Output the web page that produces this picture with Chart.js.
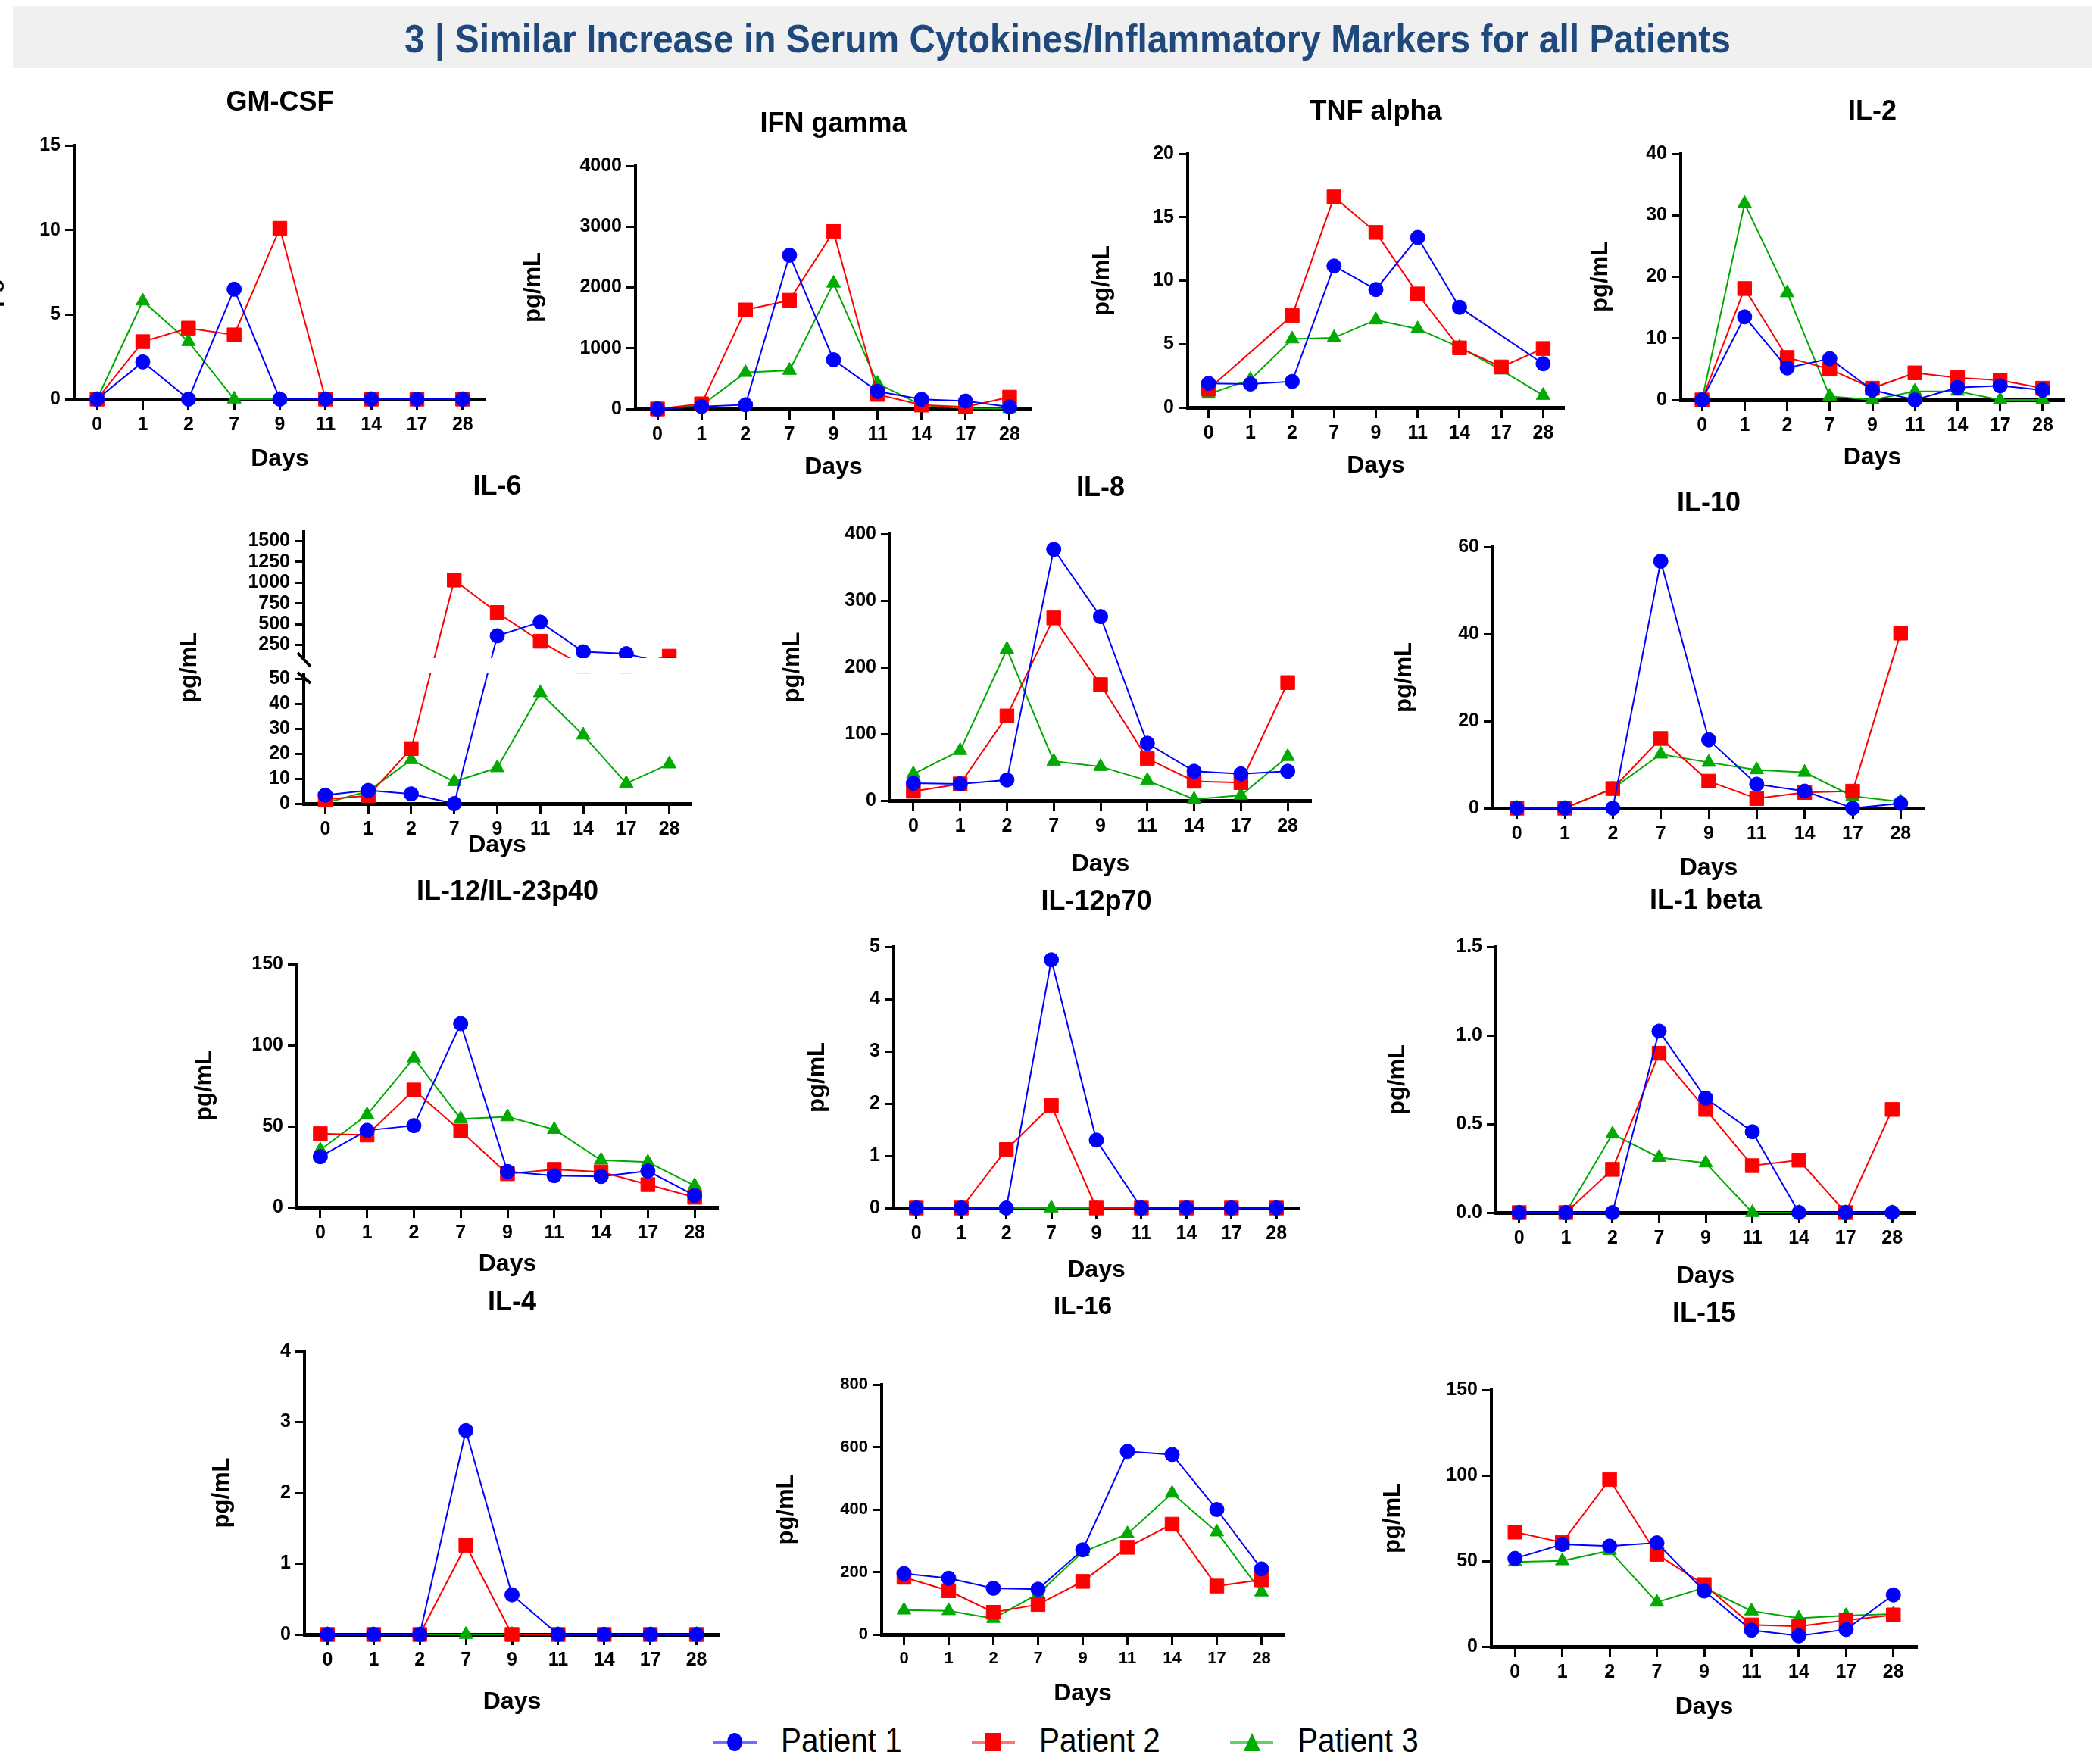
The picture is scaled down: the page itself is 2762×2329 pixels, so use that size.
<!DOCTYPE html>
<html>
<head>
<meta charset="utf-8">
<script src="https://cdn.jsdelivr.net/npm/chart.js@4.4.1/dist/chart.umd.min.js"></script>
<style>
html,body{margin:0;padding:0;background:#fff;}
body{width:2762px;height:2329px;position:relative;overflow:hidden;font-family:"Liberation Sans",Arial,Helvetica,sans-serif;}
canvas{position:absolute;}
#banner{position:absolute;left:17px;top:8px;width:2745px;height:82px;background:#f0f0f0;}
#mainTitle{position:absolute;left:534px;top:25px;font-size:52px;line-height:52px;font-weight:bold;color:#1F497D;white-space:nowrap;transform-origin:0 0;}
.lg-line{position:absolute;height:4px;}
.lg-text{position:absolute;font-size:44px;line-height:44px;color:#000;white-space:nowrap;transform-origin:0 0;transform:scaleX(0.92);}
.lg-mark{position:absolute;}
</style>
</head>
<body>
<div id="banner"></div>
<div id="mainTitle">3 | Similar Increase in Serum Cytokines/Inflammatory Markers for all Patients</div>

<script>
// ---------------- DATA ----------------
const days = ['0', '1', '2', '7', '9', '11', '14', '17', '28'];
const patients = ['Patient 1', 'Patient 2', 'Patient 3'];
const panelTitles = ['GM-CSF', 'IFN gamma', 'TNF alpha', 'IL-2', 'IL-6', 'IL-8', 'IL-10',
  'IL-12/IL-23p40', 'IL-12p70', 'IL-1 beta', 'IL-4', 'IL-16', 'IL-15'];
const yMax  = [15, 4000, 20, 40, 1612, 400, 60, 150, 5, 1.5, 4, 800, 150];
const yStep = [5, 1000, 5, 10, null, 100, 20, 50, 1, 0.5, 1, 200, 50];
const il6Ticks = [0, 10, 20, 30, 40, 50, 250, 500, 750, 1000, 1250, 1500];
const il6Break = {lowMax: 52, highMin: 100};

const gmcsf_p1 = [0, 2.2, 0, 6.5, 0, 0, 0, 0, 0];
const gmcsf_p2 = [0, 3.4, 4.2, 3.8, 10.1, 0, 0, 0, 0];
const gmcsf_p3 = [0, 5.8, 3.4, 0, 0, 0, 0, 0, 0];

const ifn_p1 = [0, 40, 70, 2530, 810, 290, 160, 130, 35];
const ifn_p2 = [0, 85, 1630, 1790, 2920, 240, 65, 35, 195];
const ifn_p3 = [0, 60, 600, 635, 2070, 420, 65, 10, 5];

const tnf_p1 = [1.9, 1.85, 2.05, 11.15, 9.3, 13.4, 7.9, null, 3.45];
const tnf_p2 = [1.45, null, 7.25, 16.6, 13.8, 8.95, 4.7, 3.2, 4.65];
const tnf_p3 = [1.05, 2.2, 5.4, 5.5, 6.9, 6.2, 4.75, 2.95, 0.95];

const il2_p1 = [0, 13.5, 5.2, 6.7, 1.6, 0, 2.0, 2.3, 1.6];
const il2_p2 = [0, 18.1, 6.9, 5.0, 1.9, 4.4, 3.6, 3.2, 1.9];
const il2_p3 = [0, 31.9, 17.4, 0.6, 0, 1.4, 1.4, 0, 0];

const il6_p1 = [3.4, 5.3, 3.9, 0, 360, 525, 168, 145, 80];
const il6_p2 = [1.7, 3.2, 22.1, 1030, 640, 295, 75, 75, 115];
const il6_p3 = [0.2, 5.0, 17.6, 8.8, 14.4, 44.5, 27.5, 8.1, 15.9];

const il8_p1 = [26, 25, 31, 377, 276, 86, 44, 40, 44];
const il8_p2 = [14, 25, 127, 274, 174, 63, 29, 27, 177];
const il8_p3 = [40, 75, 227, 59, 51, 30, 2, 8, 66];

const il10_p1 = [0, 0, 0, 56.7, 15.7, 5.5, 3.9, 0, 1.1];
const il10_p2 = [0, 0, 4.5, 16.0, 6.2, 2.2, 3.6, 3.9, 40.2];
const il10_p3 = [0, 0, 4.5, 12.4, 10.5, 8.8, 8.2, 2.75, 1.5];

const il12p40_p1 = [31.2, 47.5, 50.4, 113.3, 22.1, 19.5, 19.0, 22.4, 7.3];
const il12p40_p2 = [45.4, 44.6, 72.4, 47.1, 20.7, 23.4, 21.8, 14.0, 6.2];
const il12p40_p3 = [35.4, 57.1, 92.1, 54.6, 55.8, 48.0, 29.1, 27.9, 13.4];

const il12p70_p1 = [0, 0, 0, 4.75, 1.30, 0, 0, 0, 0];
const il12p70_p2 = [0, 0, 1.12, 1.96, 0, 0, 0, 0, 0];
const il12p70_p3 = [0, 0, 0, 0, 0, 0, 0, 0, 0];

const il1b_p1 = [0, 0, 0, 1.024, 0.646, 0.456, 0, 0, 0];
const il1b_p2 = [0, 0, 0.244, 0.899, 0.582, 0.265, 0.296, 0, 0.582];
const il1b_p3 = [0, 0, 0.443, 0.311, 0.280, 0, 0, 0, 0];

const il4_p1 = [0, 0, 0, 2.88, 0.56, 0, 0, 0, 0];
const il4_p2 = [0, 0, 0, 1.26, 0, 0, 0, 0, 0];
const il4_p3 = [0, 0, 0, 0, 0, 0, 0, 0, 0];

const il16_p1 = [195, 180, 148, 145, 271, 586, 576, 400, 210];
const il16_p2 = [183, 140, 71, 96, 170, 279, 353, 155, 175];
const il16_p3 = [78, 76, 51, 130, 264, 322, 452, 328, 136];

const il15_p1 = [51.5, 59.7, 58.7, 60.6, 32.5, 9.6, 6.3, 10.0, 30.2];
const il15_p2 = [66.9, 60.9, 97.6, 53.9, 36.2, 12.7, 11.8, 15.4, 18.5];
const il15_p3 = [49.4, 50.1, 56.0, 25.9, 34.4, 20.8, 16.6, 18.1, 19.0];

const panelData = [
  [gmcsf_p1, gmcsf_p2, gmcsf_p3],
  [ifn_p1, ifn_p2, ifn_p3],
  [tnf_p1, tnf_p2, tnf_p3],
  [il2_p1, il2_p2, il2_p3],
  [il6_p1, il6_p2, il6_p3],
  [il8_p1, il8_p2, il8_p3],
  [il10_p1, il10_p2, il10_p3],
  [il12p40_p1, il12p40_p2, il12p40_p3],
  [il12p70_p1, il12p70_p2, il12p70_p3],
  [il1b_p1, il1b_p2, il1b_p3],
  [il4_p1, il4_p2, il4_p3],
  [il16_p1, il16_p2, il16_p3],
  [il15_p1, il15_p2, il15_p3]
];

// ---------------- LAYOUT (page pixels) ----------------
const layoutBoxes = [
  {left: 98,   right: 641,  top: 192,  bottom: 527,  titleY: 136,  daysY: 606,  pgX: -10},
  {left: 839,  right: 1362, top: 219,  bottom: 540,  titleY: 164,  daysY: 617,  pgX: 705},
  {left: 1568, right: 2065, top: 203,  bottom: 538,  titleY: 148,  daysY: 615,  pgX: 1456},
  {left: 2219, right: 2725, top: 203,  bottom: 528,  titleY: 148,  daysY: 604,  pgX: 2114},
  {left: 401,  right: 912,  top: 702,  bottom: 1061, titleY: 643,  daysY: 1116, pgX: 251},
  {left: 1175, right: 1731, top: 705,  bottom: 1057, titleY: 645,  daysY: 1141, pgX: 1047},
  {left: 1971, right: 2541, top: 722,  bottom: 1067, titleY: 665,  daysY: 1146, pgX: 1855},
  {left: 392,  right: 948,  top: 1273, bottom: 1594, titleY: 1178, daysY: 1669, pgX: 271},
  {left: 1180, right: 1715, top: 1250, bottom: 1595, titleY: 1191, daysY: 1677, pgX: 1080},
  {left: 1975, right: 2529, top: 1250, bottom: 1601, titleY: 1190, daysY: 1685, pgX: 1846},
  {left: 402,  right: 950,  top: 1784, bottom: 2158, titleY: 1720, daysY: 2247, pgX: 294},
  {left: 1164, right: 1695, top: 1828, bottom: 2158, titleY: 1726, daysY: 2236, pgX: 1039},
  {left: 1969, right: 2531, top: 1835, bottom: 2174, titleY: 1735, daysY: 2254, pgX: 1840}
];

const FONT = '"Liberation Sans", Arial, Helvetica, sans-serif';
Chart.defaults.font.family = FONT;
Chart.defaults.color = '#000';

const seriesStyle = [
  {color: '#0000FF', pointStyle: 'circle', radius: 9.5},
  {color: '#FF0000', pointStyle: 'rect', radius: 13},
  {color: '#00AA00', pointStyle: 'triangle', radius: 10.5}
];

// --------- broken (two-segment) linear scale for IL-6 ----------
class BrokenLinear extends Chart.LinearScale {
  static id = 'brokenLinear';
  static defaults = {};
  buildTicks() {
    return this.options.brk.ticks.map(v => ({value: v}));
  }
  _segments() {
    const b = this.options.brk;
    const h = this.bottom - this.top;
    const yLowTop = this.bottom - h * b.lowFrac;
    const yHighBot = yLowTop - h * b.gapFrac;
    return {b, yLowTop, yHighBot};
  }
  getPixelForValue(value) {
    if (value === null || value === undefined || isNaN(value)) return NaN;
    const {b, yLowTop, yHighBot} = this._segments();
    if (value <= b.lowMax) return this.bottom - (value / b.lowMax) * (this.bottom - yLowTop);
    if (value >= b.highMin) return yHighBot - (value - b.highMin) / (this.max - b.highMin) * (yHighBot - this.top);
    return yLowTop - (value - b.lowMax) / (b.highMin - b.lowMax) * (yLowTop - yHighBot);
  }
  getValueForPixel(p) {
    const {b, yLowTop, yHighBot} = this._segments();
    if (p >= yLowTop) return (this.bottom - p) / (this.bottom - yLowTop) * b.lowMax;
    if (p <= yHighBot) return b.highMin + (yHighBot - p) / (yHighBot - this.top) * (this.max - b.highMin);
    return b.lowMax + (yLowTop - p) / (yLowTop - yHighBot) * (b.highMin - b.lowMax);
  }
}
Chart.register(BrokenLinear);

const breakPlugin = {
  id: 'axisBreak',
  afterDatasetsDraw(chart) {
    const y = chart.scales.y, ca = chart.chartArea, ctx = chart.ctx;
    const yHi = y.getPixelForValue(il6Break.highMin);
    const yLo = y.getPixelForValue(il6Break.lowMax);
    ctx.save();
    ctx.fillStyle = '#fff';
    ctx.fillRect(ca.left - 6, yHi + 1, ca.right - ca.left + 12, yLo - yHi - 2);
    ctx.strokeStyle = '#000';
    ctx.lineWidth = 4;
    ctx.beginPath();
    ctx.moveTo(ca.left - 8, yHi - 6); ctx.lineTo(ca.left + 9, yHi + 12);
    ctx.moveTo(ca.left - 8, yLo - 2); ctx.lineTo(ca.left + 9, yLo + 12);
    ctx.stroke();
    ctx.restore();
  }
};

// ---------------- build charts ----------------
panelTitles.forEach((title, i) => {
  const L = layoutBoxes[i];
  const small = (i === 11);
  const tf = small ? 33 : 36, tlh = tf * 1.2;
  const pf = 31, plh = pf * 1.2;
  const df = 32, dlh = df * 1.2;
  const tickF = small ? 22 : 25;

  const cl = Math.round(L.pgX - plh / 2);
  const ct = Math.round(L.titleY - tlh / 2);
  const cb = Math.round(L.daysY + dlh / 2);
  const padR = 30;
  const W = Math.round(L.right + padR - cl);
  const H = cb - ct;
  const yW = L.left - cl;
  const titlePadB = (L.top - ct) - tlh;
  const xH = cb - L.bottom;

  const cv = document.createElement('canvas');
  cv.width = W; cv.height = H;
  cv.style.left = cl + 'px'; cv.style.top = ct + 'px';
  cv.style.width = W + 'px'; cv.style.height = H + 'px';
  document.body.appendChild(cv);

  const datasets = panelData[i].map((arr, k) => ({
    label: patients[k],
    data: arr,
    borderColor: seriesStyle[k].color,
    backgroundColor: seriesStyle[k].color,
    pointBackgroundColor: seriesStyle[k].color,
    pointBorderColor: seriesStyle[k].color,
    pointStyle: seriesStyle[k].pointStyle,
    pointRadius: seriesStyle[k].radius,
    pointBorderWidth: 1,
    borderWidth: 2,
    tension: 0,
    spanGaps: true,
    clip: false,
    fill: false
  }));

  const isBroken = (i === 4);
  const yScale = {
    type: isBroken ? 'brokenLinear' : 'linear',
    min: 0,
    max: yMax[i],
    grid: {display: true, drawOnChartArea: false, drawTicks: true, tickLength: 12, tickWidth: 3, tickColor: '#000', color: '#000'},
    border: {display: true, color: '#000', width: 4},
    ticks: {
      color: '#000', autoSkip: false, padding: 6,
      font: {size: tickF, weight: 'bold'},
      callback: (v) => (i === 9 ? Number(v).toFixed(1) : String(v))
    },
    title: {display: true, text: 'pg/mL', color: '#000', font: {size: pf, weight: 'bold'}, padding: {top: 0, bottom: 0}},
    afterFit: (s) => { s.width = yW; }
  };
  if (isBroken) {
    const h = L.bottom - L.top;
    yScale.brk = {ticks: il6Ticks, lowMax: il6Break.lowMax, highMin: il6Break.highMin,
      lowFrac: (L.bottom - 890) / h, gapFrac: (890 - 868) / h};
  } else {
    yScale.ticks.stepSize = yStep[i];
  }

  new Chart(cv, {
    type: 'line',
    data: {labels: days, datasets},
    options: {
      responsive: false,
      animation: false,
      devicePixelRatio: 1,
      events: [],
      layout: {padding: {left: 0, top: 0, right: padR, bottom: 0}},
      plugins: {
        legend: {display: false},
        tooltip: {enabled: false},
        title: {display: true, text: title, fullSize: false, color: '#000',
          font: {size: tf, weight: 'bold'}, padding: {top: 0, bottom: titlePadB}}
      },
      scales: {
        x: {
          type: 'category',
          offset: true,
          grid: {display: true, offset: false, drawOnChartArea: false, drawTicks: true, tickLength: 14, tickWidth: 3, tickColor: '#000', color: '#000'},
          border: {display: true, color: '#000', width: 5},
          ticks: {color: '#000', autoSkip: false, maxRotation: 0, padding: 5, font: {size: tickF, weight: 'bold'}},
          title: {display: true, text: 'Days', color: '#000', font: {size: df, weight: 'bold'}, padding: {top: 0, bottom: 0}},
          afterFit: (s) => { s.height = xH; }
        },
        y: yScale
      }
    },
    plugins: isBroken ? [breakPlugin] : []
  });
});

// ---------------- legend ----------------
const legendItems = [
  {x1: 942, x2: 999, mx: 970, tx: 1031, line: 'rgba(60,60,255,0.75)'},
  {x1: 1283, x2: 1340, mx: 1311, tx: 1372, line: 'rgba(255,70,70,0.75)'},
  {x1: 1624, x2: 1681, mx: 1653, tx: 1713, line: 'rgba(40,200,40,0.75)'}
];
const legendY = 2300;
legendItems.forEach((it, k) => {
  const ln = document.createElement('div');
  ln.className = 'lg-line';
  ln.style.left = it.x1 + 'px'; ln.style.width = (it.x2 - it.x1) + 'px';
  ln.style.top = (legendY - 2) + 'px'; ln.style.background = it.line;
  document.body.appendChild(ln);
  const mk = document.createElementNS('http://www.w3.org/2000/svg', 'svg');
  mk.setAttribute('width', '26'); mk.setAttribute('height', '28');
  mk.setAttribute('class', 'lg-mark');
  mk.style.left = (it.mx - 13) + 'px'; mk.style.top = (legendY - 14) + 'px';
  let shape;
  if (k === 0) {
    shape = document.createElementNS('http://www.w3.org/2000/svg', 'ellipse');
    shape.setAttribute('cx', '13'); shape.setAttribute('cy', '14'); shape.setAttribute('rx', '10'); shape.setAttribute('ry', '12');
  } else if (k === 1) {
    shape = document.createElementNS('http://www.w3.org/2000/svg', 'rect');
    shape.setAttribute('x', '3'); shape.setAttribute('y', '2'); shape.setAttribute('width', '20'); shape.setAttribute('height', '24');
  } else {
    shape = document.createElementNS('http://www.w3.org/2000/svg', 'polygon');
    shape.setAttribute('points', '13,2 24,26 2,26');
  }
  shape.setAttribute('fill', seriesStyle[k].color);
  mk.appendChild(shape);
  document.body.appendChild(mk);
  const tx = document.createElement('div');
  tx.className = 'lg-text';
  tx.textContent = patients[k];
  tx.style.left = it.tx + 'px';
  tx.style.top = (2313 - 37) + 'px';
  document.body.appendChild(tx);
});

// fit main title width to reference
const mt = document.getElementById('mainTitle');
const w = mt.getBoundingClientRect().width;
mt.style.transform = 'scaleX(' + (1751 / w) + ')';
</script>
</body>
</html>
